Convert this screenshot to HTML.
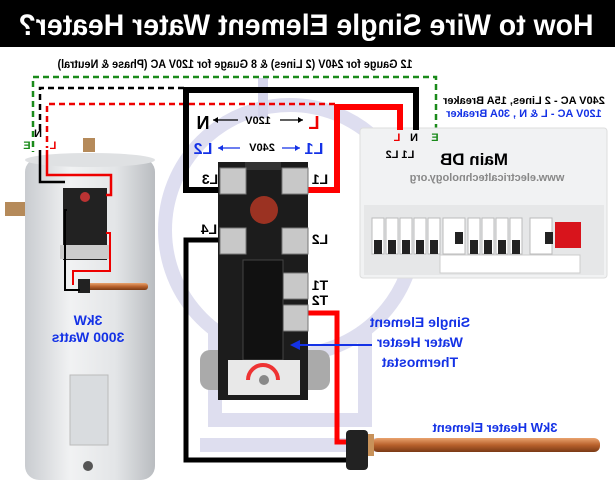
<!DOCTYPE html>
<html><head><style>
html,body{margin:0;padding:0;background:#fff;}
svg{display:block;font-family:"Liberation Sans",sans-serif;font-weight:bold;}
</style></head><body>
<svg width="615" height="485" viewBox="0 0 615 485" xmlns="http://www.w3.org/2000/svg">
<defs>
<linearGradient id="cyl" x1="0" x2="1">
<stop offset="0" stop-color="#c9ccd0"/><stop offset="0.35" stop-color="#f1f2f3"/><stop offset="0.7" stop-color="#e3e5e7"/><stop offset="1" stop-color="#b9bcc0"/></linearGradient>
<linearGradient id="cu" x1="0" y1="0" x2="0" y2="1">
<stop offset="0" stop-color="#e9a36e"/><stop offset="0.5" stop-color="#b8612c"/><stop offset="1" stop-color="#7a3a15"/></linearGradient>
</defs>
<rect width="615" height="485" fill="#fff"/>
<!-- title -->
<rect x="0" y="0" width="615" height="47" fill="#000"/>
<text transform="translate(306,35) scale(-1,1)" text-anchor="middle" fill="#fff" font-size="30" textLength="575" lengthAdjust="spacingAndGlyphs">How to Wire Single Element Water Heater?</text>
<text transform="translate(235,68) scale(-1,1)" text-anchor="middle" fill="#000" font-size="11.5" textLength="355" lengthAdjust="spacingAndGlyphs">12 Gauge for 240V (2 Lines) &amp; 8 Guage for 120V AC (Phase &amp; Neutral)</text>

<!-- watermark bulb -->
<g fill="none" stroke="#d6d6ec" stroke-width="14" opacity="0.8">
<circle cx="290" cy="230" r="125"/>
<path d="M215 330 L215 420 L365 420 L365 330"/>
<path d="M200 445 L380 445"/>
</g>
<rect x="258" y="78" width="10" height="40" fill="#d6d6ec"/>

<!-- heater cylinder -->
<rect x="25" y="158" width="130" height="322" rx="14" fill="url(#cyl)"/>
<ellipse cx="90" cy="160" rx="65" ry="7" fill="#dfe1e3"/>
<rect x="70" y="375" width="38" height="70" fill="#d9dcdf" stroke="#bbb"/>
<circle cx="88" cy="466" r="5" fill="#555"/>
<rect x="5" y="202" width="20" height="14" fill="#b58a5a"/>
<rect x="83" y="138" width="12" height="14" fill="#b58a5a"/>
<rect x="63" y="188" width="44" height="72" fill="#222"/>
<rect x="60" y="245" width="50" height="14" fill="#ccc"/>
<circle cx="85" cy="197" r="5" fill="#b33"/>
<rect x="78" y="283" width="70" height="7" rx="3" fill="url(#cu)"/>
<rect x="78" y="279" width="12" height="14" fill="#222"/>
<text transform="translate(88,325) scale(-1,1)" text-anchor="middle" fill="#1432e6" font-size="14">3kW</text>
<text transform="translate(88,342) scale(-1,1)" text-anchor="middle" fill="#1432e6" font-size="14">3000 Watts</text>
<!-- heater wiring -->
<polyline points="40,150 40,182 65,182" fill="none" stroke="#000" stroke-width="2.5"/>
<polyline points="47,150 47,175 111,175 111,195 106,195" fill="none" stroke="#e00" stroke-width="2.5"/>
<polyline points="67,210 65,210 65,290 80,290" fill="none" stroke="#000" stroke-width="2"/>
<polyline points="106,233 110,233 110,271 73,271 73,285" fill="none" stroke="#e00" stroke-width="2"/>

<!-- dashed wires -->
<polyline points="436,140 436,77 33,77 33,152" fill="none" stroke="#1a8a1a" stroke-width="2.5" stroke-dasharray="6,4"/>
<polyline points="184,88 40,88 40,130" fill="none" stroke="#000" stroke-width="2.5" stroke-dasharray="6,4"/>
<polyline points="335,104 47,104 47,148" fill="none" stroke="#e00" stroke-width="2.5" stroke-dasharray="6,4"/>
<text transform="translate(38,137) scale(-1,1)" text-anchor="middle" font-size="11">N</text>
<text transform="translate(27,149) scale(-1,1)" text-anchor="middle" fill="#1a8a1a" font-size="11">E</text>
<text transform="translate(53,149) scale(-1,1)" text-anchor="middle" fill="#e00" font-size="11">L</text>

<!-- main DB -->
<rect x="360" y="128" width="247" height="150" rx="3" fill="#f1f2f3" stroke="#ddd"/>
<rect x="364" y="205" width="240" height="70" fill="#e6e7e8"/>
<g fill="#fff" stroke="#bbb">
<rect x="372" y="218" width="12" height="36"/><rect x="386" y="218" width="12" height="36"/><rect x="400" y="218" width="12" height="36"/><rect x="414" y="218" width="12" height="36"/><rect x="428" y="218" width="12" height="36"/><rect x="443" y="218" width="22" height="36"/>
<rect x="468" y="218" width="12" height="36"/><rect x="482" y="218" width="12" height="36"/><rect x="496" y="218" width="12" height="36"/><rect x="510" y="218" width="12" height="36"/><rect x="530" y="218" width="22" height="36"/>
</g>
<g fill="#222">
<rect x="374" y="240" width="8" height="14"/><rect x="388" y="240" width="8" height="14"/><rect x="402" y="240" width="8" height="14"/><rect x="416" y="240" width="8" height="14"/><rect x="430" y="240" width="8" height="14"/><rect x="455" y="232" width="8" height="12"/>
<rect x="470" y="240" width="8" height="14"/><rect x="484" y="240" width="8" height="14"/><rect x="498" y="240" width="8" height="14"/><rect x="512" y="240" width="8" height="14"/><rect x="545" y="232" width="8" height="12"/>
</g>
<rect x="555" y="222" width="26" height="26" fill="#d8141c"/>
<rect x="440" y="255" width="140" height="18" fill="#fff" stroke="#ccc"/>
<text transform="translate(474,165) scale(-1,1)" text-anchor="middle" font-size="17">Main DB</text>
<text transform="translate(487,181) scale(-1,1)" text-anchor="middle" fill="#888" font-size="11">www.electricaltechnology.org</text>

<!-- solid wires -->
<polyline points="220,190 186,190 186,90 416,90 416,130" fill="none" stroke="#000" stroke-width="6"/>
<polyline points="300,190 337,190 337,107 400,107 400,130" fill="none" stroke="#f00" stroke-width="6"/>
<polyline points="222,240 186,240 186,460 348,460" fill="none" stroke="#000" stroke-width="5"/>
<polyline points="300,313 337,313 337,442 355,442" fill="none" stroke="#f00" stroke-width="5"/>

<!-- thermostat -->
<rect x="200" y="350" width="130" height="40" rx="10" fill="#aaa"/>
<rect x="218" y="162" width="90" height="238" fill="#1c1c1c"/>
<rect x="245" y="162" width="36" height="8" fill="#333"/>
<circle cx="264" cy="210" r="14" fill="#9b3222"/>
<g fill="#c8c8c8" stroke="#777">
<rect x="220" y="168" width="26" height="26"/><rect x="282" y="168" width="26" height="26"/>
<rect x="220" y="228" width="26" height="26"/><rect x="282" y="228" width="26" height="26"/>
<rect x="282" y="273" width="26" height="26"/><rect x="282" y="305" width="26" height="26"/>
</g>
<rect x="243" y="260" width="40" height="100" fill="#111" stroke="#444"/>
<rect x="228" y="360" width="72" height="35" fill="#e8e8e8"/>
<path d="M248 380 A14 14 0 0 1 278 380" fill="none" stroke="#e33" stroke-width="4"/>
<circle cx="264" cy="380" r="5" fill="#888"/>

<!-- thermostat labels -->
<text transform="translate(210,184) scale(-1,1)" text-anchor="middle" font-size="14">L3</text>
<text transform="translate(320,184) scale(-1,1)" text-anchor="middle" font-size="14">L1</text>
<text transform="translate(209,234) scale(-1,1)" text-anchor="middle" font-size="14">L4</text>
<text transform="translate(320,244) scale(-1,1)" text-anchor="middle" font-size="14">L2</text>
<text transform="translate(320,290) scale(-1,1)" text-anchor="middle" font-size="14">T1</text>
<text transform="translate(320,305) scale(-1,1)" text-anchor="middle" font-size="14">T2</text>
<text transform="translate(203,129) scale(-1,1)" text-anchor="middle" font-size="18">N</text>
<text transform="translate(314,129) scale(-1,1)" text-anchor="middle" fill="#e00" font-size="18">L</text>
<text transform="translate(258,124) scale(-1,1)" text-anchor="middle" font-size="11">120V</text>
<path d="M213 120 L238 120 M280 120 L303 120" stroke="#000" stroke-width="1.2"/>
<path d="M213 120 l5 -3 v6z M303 120 l-5 -3 v6z" fill="#000"/>
<text transform="translate(203,154) scale(-1,1)" text-anchor="middle" fill="#1432e6" font-size="16">L2</text>
<text transform="translate(314,154) scale(-1,1)" text-anchor="middle" fill="#1432e6" font-size="16">L1</text>
<text transform="translate(262,151) scale(-1,1)" text-anchor="middle" font-size="11">240V</text>
<path d="M218 148 L240 148 M282 148 L300 148" stroke="#1432e6" stroke-width="1.2"/>
<path d="M218 148 l5 -3 v6z M300 148 l-5 -3 v6z" fill="#1432e6"/>

<!-- DB labels -->
<text transform="translate(397,141) scale(-1,1)" text-anchor="middle" fill="#e00" font-size="11">L</text>
<text transform="translate(414,141) scale(-1,1)" text-anchor="middle" font-size="11">N</text>
<text transform="translate(435,141) scale(-1,1)" text-anchor="middle" fill="#1a8a1a" font-size="11">E</text>
<text transform="translate(400,158) scale(-1,1)" text-anchor="middle" font-size="11">L1 L2</text>
<text transform="translate(524,104) scale(-1,1)" text-anchor="middle" font-size="11">240V AC - 2 Lines, 15A Breaker</text>
<text transform="translate(524,117) scale(-1,1)" text-anchor="middle" fill="#1432e6" font-size="11">120V AC - L &amp; N , 30A Breaker</text>

<!-- thermostat callout -->
<text transform="translate(420,327) scale(-1,1)" text-anchor="middle" fill="#1432e6" font-size="14">Single Element</text>
<text transform="translate(420,347) scale(-1,1)" text-anchor="middle" fill="#1432e6" font-size="14">Water Heater</text>
<text transform="translate(420,367) scale(-1,1)" text-anchor="middle" fill="#1432e6" font-size="14">Thermostat</text>
<path d="M372 345 L298 345" stroke="#1432e6" stroke-width="2"/>
<path d="M290 345 l10 -5 v10z" fill="#1432e6"/>

<!-- heater element -->
<rect x="372" y="438" width="228" height="14" rx="6" fill="url(#cu)"/>
<rect x="360" y="434" width="14" height="22" fill="#c8925a"/>
<rect x="346" y="430" width="22" height="40" rx="4" fill="#222"/>
<text transform="translate(495,432) scale(-1,1)" text-anchor="middle" fill="#1432e6" font-size="13">3kW Heater Element</text>
</svg>
</body></html>
